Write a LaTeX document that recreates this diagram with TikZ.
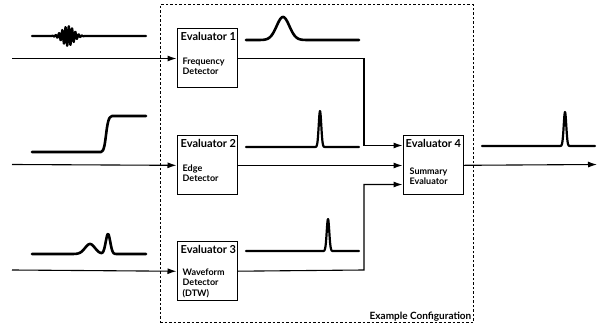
\documentclass[tikz,border=0pt]{standalone}
\usepackage{fontspec}
\setsansfont{Lato}
\usetikzlibrary{positioning, arrows.meta}

\begin{document}
\begin{tikzpicture}[
    x=1pt, y=-1pt,
    >={Latex[length=9pt, width=6pt]},
    evalbox/.style={draw, line width=1pt, minimum width=60pt, minimum height=59pt, inner sep=0pt},
    title/.style={font=\sffamily\bfseries\fontsize{11}{12}\selectfont, inner sep=0pt, anchor=north west},
    desc/.style={font=\sffamily\bfseries\fontsize{9}{10.5}\selectfont, inner sep=0pt, anchor=north west, align=left},
    frame/.style={draw, dash pattern=on 2.5pt off 2pt, line width=1pt, minimum width=313pt, minimum height=318pt, inner sep=0pt},
    sig/.style={line width=2.6pt, line join=round, line cap=round},
    spike/.style={line width=2.2pt, line join=round, line cap=round},
    link/.style={line width=1.1pt},
]
\useasboundingbox (0,0) rectangle (598,328);

% example configuration frame
\node[frame] (cfg) at (316.5,164) {};
\node[font=\sffamily\bfseries\fontsize{10}{12}\selectfont, anchor=south east, inner sep=2pt] (cfgname) at (cfg.south east) {Example Configuration};

% evaluators
\node[evalbox] (ev1) at (207,58.5) {};
\node[evalbox, below=47pt of ev1] (ev2) {};
\node[evalbox, below=46pt of ev2] (ev3) {};
\node[evalbox, right=165pt of ev2] (ev4) {};

\node[title] (t1) at ([xshift=4pt, yshift=-4pt]ev1.north west) {Evaluator 1};
\node[title] (t2) at ([xshift=4pt, yshift=-4pt]ev2.north west) {Evaluator 2};
\node[title] (t3) at ([xshift=4pt, yshift=-4pt]ev3.north west) {Evaluator 3};
\node[title] (t4) at ([xshift=3pt, yshift=-4pt]ev4.north west) {Evaluator 4};

\node[desc] (d1) at ([xshift=6pt, yshift=-29pt]ev1.north west) {Frequency\\Detector};
\node[desc] (d2) at ([xshift=6pt, yshift=-29pt]ev2.north west) {Edge\\Detector};
\node[desc] (d3) at ([xshift=6pt, yshift=-27pt]ev3.north west) {Waveform\\Detector\\(DTW)};
\node[desc] (d4) at ([xshift=7pt, yshift=-32pt]ev4.north west) {Summary\\Evaluator};

% inputs and output
\coordinate (in1) at (12,58.5);
\coordinate (in2) at (12,164.5);
\coordinate (in3) at (12,270);
\coordinate (out) at (597,164.5);
\coordinate (j1) at (364,58.5);
\coordinate (j3) at (364,270);

\draw[link, ->] (in1) -- (ev1);
\draw[link, ->] (in2) -- (ev2);
\draw[link, ->] (in3) -- (ev3);
\draw[link, ->] (ev1) -- (j1) |- ([yshift=20pt]ev4.west);
\draw[link, ->] (ev2) -- (ev4);
\draw[link, ->] (ev3) -- (j3) |- ([yshift=-19pt]ev4.west);
\draw[link, ->] (ev4) -- (out);

% input signals
\draw[sig, line width=2.2pt] plot[domain=32:146, samples=400]
    (\x, {36 - 10*exp(-min(((\x-68)/8)^2,10))*sin((\x-32)*110)});
\draw[sig] (32,152) -- (101,152) .. controls (107,152) and (105,116) .. (112,116) -- (146,116);
\draw[sig] plot[domain=32:146, samples=200]
    (\x, {254 - 10*exp(-min(((\x-90)/7)^2,10)) - 20*exp(-min(((\x-108)/3.2)^2,10))});

% evaluator outputs
\draw[sig] plot[domain=246:359, samples=200]
    (\x, {40 - 23*exp(-min(((\x-283)/9)^2,10))});
\draw[spike] plot[domain=246:359, samples=400]
    (\x, {147 - 36*exp(-min(((\x-320)/1.8)^2,10))});
\draw[spike] plot[domain=246:359, samples=400]
    (\x, {251 - 32*exp(-min(((\x-328)/1.8)^2,10))});
\draw[spike] plot[domain=482:595, samples=400]
    (\x, {146 - 34*exp(-min(((\x-565)/1.8)^2,10))});

\end{tikzpicture}
\end{document}
